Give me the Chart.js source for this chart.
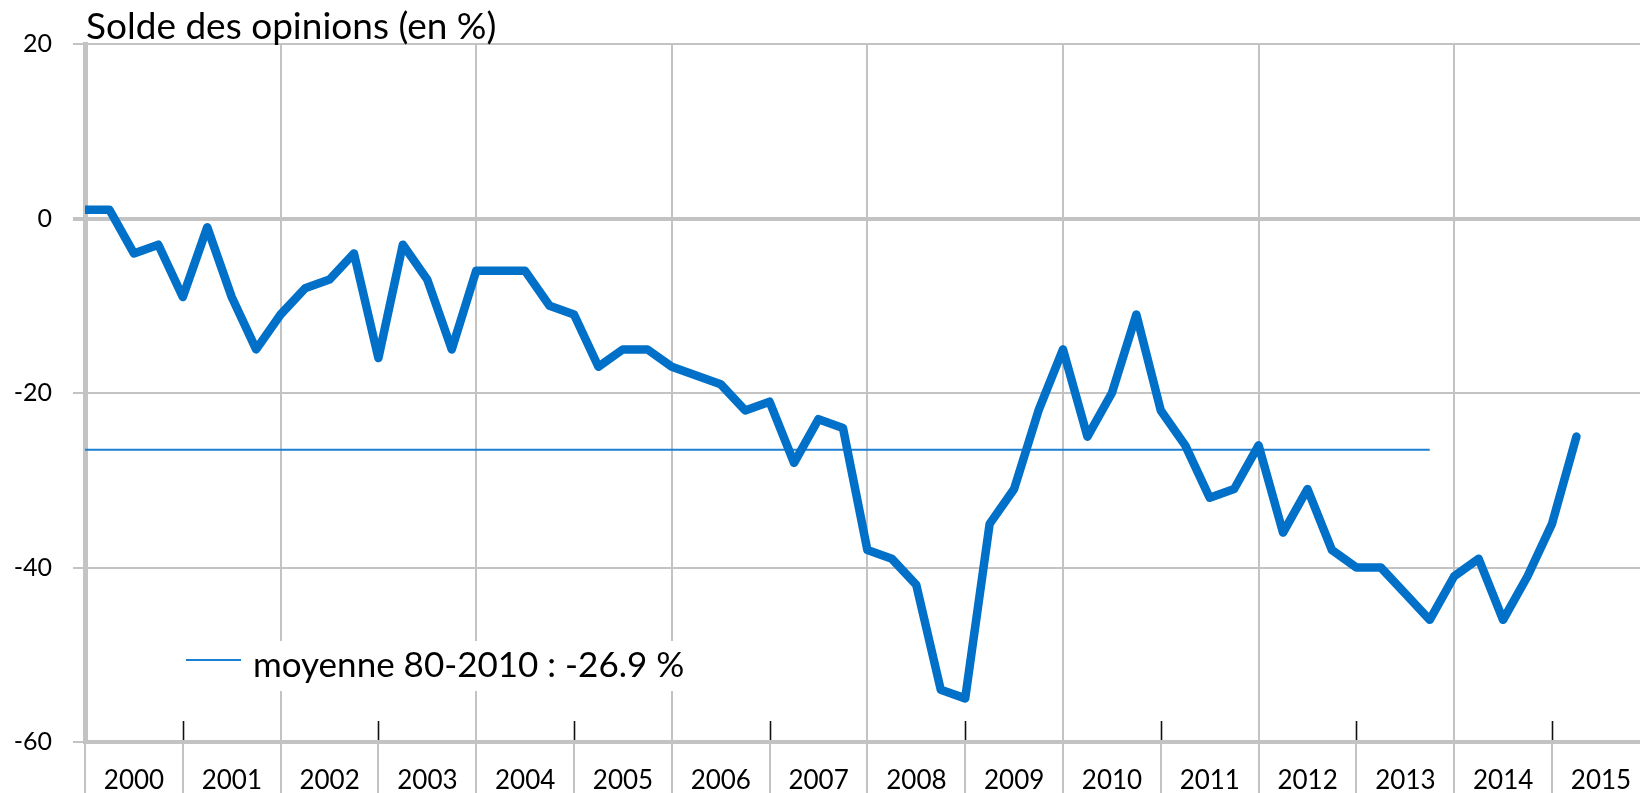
<!DOCTYPE html>
<html>
<head>
<meta charset="utf-8">
<script src="https://cdn.jsdelivr.net/npm/chart.js@4"></script>
<style>
  html, body { margin: 0; padding: 0; background: #ffffff; }
  #wrap { position: relative; width: 1640px; height: 793px; }
</style>
</head>
<body>
<div id="wrap"><canvas id="c" width="1640" height="793"></canvas></div>
<script>
// ---- Data ----
const titleText = 'Solde des opinions (en %)';
const years = ['2000','2001','2002','2003','2004','2005','2006','2007','2008','2009','2010','2011','2012','2013','2014','2015'];
const quarterNames = ['T1','T2','T3','T4'];
// quarterly balance of opinions, 2000 T1 .. 2015 T2
const values = [
  1, 1, -4, -3,
  -9, -1, -9, -15,
  -11, -8, -7, -4,
  -16, -3, -7, -15,
  -6, -6, -6, -10,
  -11, -17, -15, -15,
  -17, -18, -19, -22,
  -21, -28, -23, -24,
  -38, -39, -42, -54,
  -55, -35, -31, -22,
  -15, -25, -20, -11,
  -22, -26, -32, -31,
  -26, -36, -31, -38,
  -40, -40, -43, -46,
  -41, -39, -46, -41,
  -35, -25
];
const meanLabel = 'moyenne 80-2010 : -26.9 %';
const meanValue = -26.5;   // position of the reference line as drawn
const meanStartIndex = 0;
const meanEndIndex = 55;
const yTicks = [20, 0, -20, -40, -60];

const categories = years.flatMap(y => quarterNames.map(q => y + ' ' + q)).slice(0, values.length);
const seriesPoints = values.map((v, i) => ({ x: i, y: v, label: categories[i] }));
const meanPoints = [{ x: meanStartIndex, y: meanValue }, { x: meanEndIndex, y: meanValue }];

const GRID = '#c3c3c3';
const FONT = 'Lato, "Open Sans", sans-serif';

const overlay = {
  id: 'overlay',
  beforeDatasetsDraw(chart) {
    const { ctx, scales: { x }, chartArea } = chart;
    ctx.save();
    ctx.strokeStyle = '#111111';
    ctx.lineWidth = 1.6;
    for (let k = 1; k < years.length; k += 2) {
      const px = Math.round(x.getPixelForValue(k * 4)) + 0.5;
      ctx.beginPath();
      ctx.moveTo(px, chartArea.bottom - 2);
      ctx.lineTo(px, chartArea.bottom - 21);
      ctx.stroke();
    }
    ctx.restore();
  },
  afterDraw(chart) {
    const { ctx } = chart;
    ctx.save();
    // title
    ctx.fillStyle = '#000000';
    ctx.font = '37px ' + FONT;
    ctx.textBaseline = 'alphabetic';
    ctx.textAlign = 'left';
    ctx.fillText(titleText, 86, 39);
    // legend box
    ctx.fillStyle = '#ffffff';
    ctx.fillRect(180, 641, 520, 50);
    ctx.strokeStyle = '#1d7fd2';
    ctx.lineWidth = 2;
    ctx.beginPath();
    ctx.moveTo(186, 660);
    ctx.lineTo(241, 660);
    ctx.stroke();
    ctx.fillStyle = '#000000';
    ctx.font = '35px ' + FONT;
    ctx.fillText(meanLabel, 253, 677);
    ctx.restore();
  }
};

function build() {
  new Chart(document.getElementById('c'), {
    type: 'line',
    data: {
      datasets: [
        {
          label: 'Solde',
          data: seriesPoints,
          borderColor: '#0070c8',
          borderWidth: 8.5,
          pointRadius: 0,
          tension: 0,
          borderCapStyle: 'round',
          borderJoinStyle: 'round',
          fill: false
        },
        {
          label: meanLabel,
          data: meanPoints,
          borderColor: '#1d7fd2',
          borderWidth: 2,
          pointRadius: 0,
          tension: 0,
          fill: false
        }
      ]
    },
    options: {
      responsive: false,
      animation: false,
      layout: { padding: { top: 44, right: 0, bottom: 0, left: 0 } },
      plugins: { legend: { display: false }, tooltip: { enabled: false }, title: { display: false } },
      scales: {
        x: {
          type: 'linear',
          min: 0,
          max: 63.6,
          afterFit(scale) { scale.height = 51; },
          border: { display: true, color: GRID, width: 4 },
          grid: {
            color: (c) => (c.tick && c.tick.value % 8 === 0) ? GRID : 'rgba(0,0,0,0)',
            tickColor: GRID,
            lineWidth: 2,
            tickLength: 52,
            drawTicks: true
          },
          ticks: {
            stepSize: 4,
            includeBounds: false,
            autoSkip: false,
            maxRotation: 0,
            labelOffset: 49,
            padding: -29,
            color: '#000000',
            font: { family: FONT, size: 26 },
            callback: (v) => years[v / 4] !== undefined && v % 4 === 0 ? years[v / 4] : ''
          }
        },
        y: {
          min: -60,
          max: 20,
          afterFit(scale) { scale.width = 85; },
          border: { display: true, color: GRID, width: 5 },
          afterBuildTicks(scale) { scale.ticks = yTicks.map(v => ({ value: v })); },
          grid: {
            color: GRID,
            tickColor: GRID,
            lineWidth: (c) => (c.tick && c.tick.value === 0) ? 4 : 2,
            tickLength: 12,
            drawTicks: true
          },
          ticks: {
            padding: 21,
            color: '#000000',
            font: { family: FONT, size: 25 }
          }
        }
      }
    },
    plugins: [overlay]
  });
}

if (document.fonts && document.fonts.load) {
  Promise.all([document.fonts.load('37px Lato'), document.fonts.load('26px Lato')]).then(build, build);
} else {
  build();
}
</script>
</body>
</html>
